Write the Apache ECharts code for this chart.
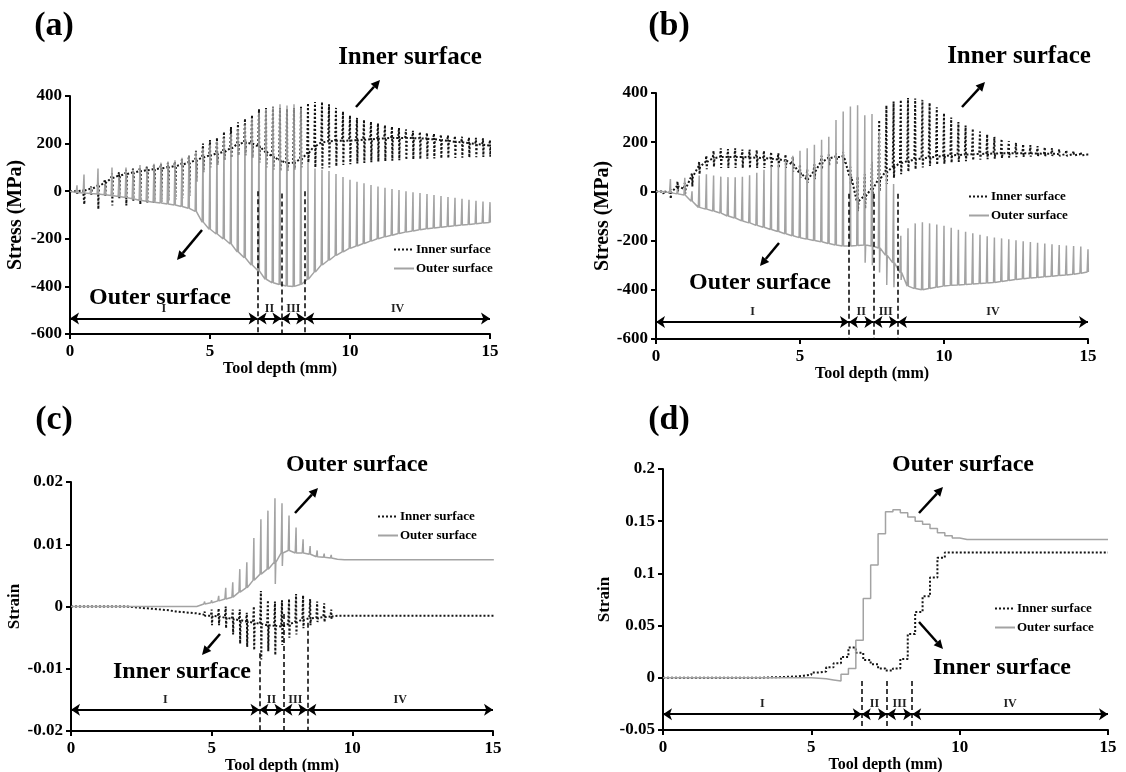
<!DOCTYPE html>
<html>
<head>
<meta charset="utf-8">
<script src="https://cdn.jsdelivr.net/npm/echarts@6/dist/echarts.min.js"></script>
<style>
  html, body { margin: 0; padding: 0; background: #fff; }
  #main-chart { width: 1126px; height: 772px; }
</style>
</head>
<body>
<div id="main-chart"></div>
<script>
// tool depth at the end of each forming cycle (mm)
const cycleDepth = [
  0.25, 0.5, 0.75, 1, 1.25, 1.5, 1.75, 2, 2.25, 2.5,
  2.75, 3, 3.25, 3.5, 3.75, 4, 4.25, 4.5, 4.75, 5,
  5.25, 5.5, 5.75, 6, 6.25, 6.5, 6.75, 7, 7.25, 7.5,
  7.75, 8, 8.25, 8.5, 8.75, 9, 9.25, 9.5, 9.75, 10,
  10.25, 10.5, 10.75, 11, 11.25, 11.5, 11.75, 12, 12.25, 12.5,
  12.75, 13, 13.25, 13.5, 13.75, 14, 14.25, 14.5, 14.75, 15
];

const regionBounds = [0, 6.7, 7.55, 8.4, 15];
const regionNames = ["I", "II", "III", "IV"];

// (a) stress, per cycle
const aInnerMid = [
  0, 3, 10, 20, 35, 55, 65, 72, 78, 84,
  88, 92, 96, 100, 105, 112, 120, 130, 142, 150,
  158, 165, 180, 198, 205, 200, 188, 165, 145, 130,
  118, 120, 135, 160, 190, 205, 210, 212, 212, 213,
  214, 216, 218, 220, 222, 224, 224, 224, 223, 222,
  220, 218, 215, 212, 208, 205, 202, 198, 195, 192
];
const aInnerHigh = [
  5, 10, 20, 35, 50, 75, 80, 90, 95, 100,
  105, 110, 115, 120, 125, 135, 150, 170, 200, 215,
  225, 250, 270, 290, 305, 320, 345, 350, 355, 350,
  345, 350, 355, 370, 375, 375, 365, 350, 335, 318,
  308, 300, 292, 285, 278, 272, 266, 260, 254, 249,
  245, 242, 238, 235, 232, 229, 226, 224, 222, 215
];
const aInnerLow = [
  -10, -55, -15, -75, -20, -60, -30, -60, -40, -55,
  -50, -50, -45, -40, -35, -30, -20, 40, 80, 100,
  110, 130, 140, 150, 150, 140, 120, 100, 90, 85,
  85, 90, 100, 120, 100, 95, 100, 105, 110, 113,
  116, 119, 122, 124, 126, 128, 130, 132, 134, 135,
  136, 137, 138, 139, 140, 141, 142, 143, 144, 145
];
const aOuterBase = [
  -5, -8, -10, -12, -15, -18, -22, -26, -32, -38,
  -42, -46, -50, -54, -58, -64, -72, -85, -130, -160,
  -180, -200, -222, -255, -280, -310, -335, -370, -385, -392,
  -398, -400, -392, -370, -340, -310, -290, -270, -255, -240,
  -230, -220, -210, -200, -192, -185, -178, -172, -167, -162,
  -158, -155, -151, -148, -145, -142, -140, -137, -134, -132
];
const aOuterPeak = [
  25, 70, 20, 95, 30, 100, 60, 100, 90, 110,
  100, 115, 120, 125, 130, 140, 150, 165, 180, 195,
  210, 225, 240, 260, 280, 300, 330, 345, 355, 365,
  360, 365, 350, 120, 95, 90, 85, 72, 60, 48,
  40, 33, 26, 20, 14, 9, 5, 0, -4, -8,
  -12, -16, -20, -24, -28, -32, -36, -40, -43, -46
];

// (b) stress, per cycle
const bInnerMid = [
  0, -5, 20, 10, 60, 100, 120, 135, 140, 140,
  140, 140, 138, 137, 135, 133, 130, 125, 110, 75,
  50, 80, 120, 135, 140, 140, 60, -40, -20, 10,
  50, 80, 100, 115, 123, 130, 134, 138, 141, 144,
  146, 148, 150, 151, 152, 153, 154, 155, 155, 155,
  155, 154, 154, 153, 153, 152, 152, 151, 151, 150
];
const bInnerHigh = [
  5, 10, 40, 35, 75, 120, 145, 165, 175, 172,
  175, 170, 170, 168, 165, 160, 155, 150, 140, 110,
  90, 110, 145, 150, 155, 160, 100, 60, 70, 120,
  290, 350, 365, 372, 380, 378, 372, 360, 342, 318,
  300, 282, 268, 255, 243, 232, 222, 213, 205, 198,
  192, 188, 184, 180, 176, 172, 168, 164, 160, 156
];
const bInnerLow = [
  -10, -30, 0, -10, 20, 70, 90, 100, 95, 95,
  95, 95, 95, 95, 95, 95, 95, 95, 80, 55,
  35, 50, 90, 105, 110, 115, 30, -80, -70, -50,
  0, 30, 55, 70, 80, 90, 97, 103, 108, 112,
  116, 120, 123, 126, 129, 131, 133, 135, 137, 139,
  140, 141, 142, 143, 144, 145, 145, 146, 146, 147
];
const bOuterBase = [
  0, -5, -10, -15, -40, -65, -72, -80, -88, -100,
  -108, -120, -128, -138, -146, -155, -163, -172, -180, -188,
  -194, -200, -205, -212, -218, -222, -222, -220, -218, -222,
  -230, -260, -290, -330, -385, -395, -400, -395, -390, -385,
  -382, -380, -378, -376, -374, -372, -370, -366, -362, -358,
  -355, -352, -350, -347, -345, -342, -340, -337, -333, -328
];
const bOuterPeak = [
  5, 50, 10, 55, 0, 65, 70, 65, 60, 58,
  57, 60, 66, 76, 88, 102, 115, 128, 145, 165,
  175, 190, 210, 222, 290, 325, 345, 350, 310, 315,
  240, 80, 30, -180, -150, -130, -125, -130, -135, -140,
  -148, -156, -164, -170, -176, -182, -187, -191, -195, -199,
  -203, -206, -209, -212, -215, -218, -220, -222, -224, -235
];
const bOuterLow = [
  0, -5, -10, -15, -40, -65, -72, -80, -88, -100,
  -108, -120, -128, -138, -146, -155, -163, -172, -180, -188,
  -194, -200, -205, -212, -218, -222, -222, -220, -290, -300,
  -330, -380, -390, -360, -385, -395, -400, -395, -390, -385,
  -382, -380, -378, -376, -374, -372, -370, -366, -362, -358,
  -355, -352, -350, -347, -345, -342, -340, -337, -333, -328
];

// (c) strain, per cycle
const cInnerMid = [
  0, 0, 0, 0, 0, 0, 0, 0, -0.0001, -0.0002,
  -0.0003, -0.0004, -0.0005, -0.0006, -0.0008, -0.0009, -0.001, -0.0011, -0.0013, -0.0015,
  -0.0016, -0.0018, -0.002, -0.0022, -0.0024, -0.0026, -0.0028, -0.003, -0.0031, -0.0032,
  -0.0028, -0.0025, -0.0021, -0.0019, -0.0018, -0.0017, -0.0016, -0.0015, -0.0015, -0.0015,
  -0.0015, -0.0015, -0.0015, -0.0015, -0.0015, -0.0015, -0.0015, -0.0015, -0.0015, -0.0015,
  -0.0015, -0.0015, -0.0015, -0.0015, -0.0015, -0.0015, -0.0015, -0.0015, -0.0015, -0.0015
];
const cInnerHigh = [
  0, 0, 0, 0, 0, 0, 0, 0, -0.0001, -0.0002,
  -0.0003, -0.0004, -0.0005, -0.0006, -0.0008, -0.0009, -0.001, -0.0011, -0.0008, -0.0005,
  -0.0003, 0, -0.0005, -0.0005, -0.001, 0, 0.0025, 0.001, 0.0008, 0.001,
  0.0012, 0.002, 0.0018, 0.0012, 0.0008, 0.0005, -0.0005, -0.0015, -0.0015, -0.0015,
  -0.0015, -0.0015, -0.0015, -0.0015, -0.0015, -0.0015, -0.0015, -0.0015, -0.0015, -0.0015,
  -0.0015, -0.0015, -0.0015, -0.0015, -0.0015, -0.0015, -0.0015, -0.0015, -0.0015, -0.0015
];
const cInnerLow = [
  0, 0, 0, 0, 0, 0, 0, 0, -0.0001, -0.0002,
  -0.0003, -0.0004, -0.0005, -0.0006, -0.0008, -0.0009, -0.001, -0.0011, -0.0015, -0.003,
  -0.003, -0.0035, -0.0045, -0.006, -0.0065, -0.007, -0.0085, -0.0072, -0.0078, -0.0062,
  -0.005, -0.0045, -0.0035, -0.003, -0.0025, -0.0025, -0.002, -0.0015, -0.0015, -0.0015,
  -0.0015, -0.0015, -0.0015, -0.0015, -0.0015, -0.0015, -0.0015, -0.0015, -0.0015, -0.0015,
  -0.0015, -0.0015, -0.0015, -0.0015, -0.0015, -0.0015, -0.0015, -0.0015, -0.0015, -0.0015
];
const cOuterBase = [
  0, 0, 0, 0, 0, 0, 0, 0, 0, 0,
  0, 0, 0, 0, 0, 0, 0, 0, 0.0004, 0.0006,
  0.0009, 0.0012, 0.0015, 0.0023, 0.003, 0.0042, 0.0052, 0.006, 0.0071, 0.0086,
  0.009, 0.0086, 0.0086, 0.0084, 0.008, 0.0079, 0.0078, 0.0076, 0.0075, 0.0075,
  0.0075, 0.0075, 0.0075, 0.0075, 0.0075, 0.0075, 0.0075, 0.0075, 0.0075, 0.0075,
  0.0075, 0.0075, 0.0075, 0.0075, 0.0075, 0.0075, 0.0075, 0.0075, 0.0075, 0.0075
];
const cOuterPeak = [
  0, 0, 0, 0, 0, 0, 0, 0, 0, 0,
  0, 0, 0, 0, 0, 0, 0, 0, 0.0008, 0.001,
  0.0017, 0.003, 0.0039, 0.006, 0.0071, 0.011, 0.014, 0.0154, 0.0174, 0.0166,
  0.0146, 0.0127, 0.0108, 0.0097, 0.009, 0.0085, 0.0083, 0.0078, 0.0075, 0.0075,
  0.0075, 0.0075, 0.0075, 0.0075, 0.0075, 0.0075, 0.0075, 0.0075, 0.0075, 0.0075,
  0.0075, 0.0075, 0.0075, 0.0075, 0.0075, 0.0075, 0.0075, 0.0075, 0.0075, 0.0075
];
const cOuterLow = [
  0, 0, 0, 0, 0, 0, 0, 0, 0, 0,
  0, 0, 0, 0, 0, 0, 0, 0, 0.0004, 0.0006,
  0.0009, 0.0012, 0.0015, 0.0023, 0.003, 0.0042, 0.0052, 0.006, 0.0036, 0.0065,
  0.009, 0.0086, 0.0086, 0.0084, 0.008, 0.0079, 0.0078, 0.0076, 0.0075, 0.0075,
  0.0075, 0.0075, 0.0075, 0.0075, 0.0075, 0.0075, 0.0075, 0.0075, 0.0075, 0.0075,
  0.0075, 0.0075, 0.0075, 0.0075, 0.0075, 0.0075, 0.0075, 0.0075, 0.0075, 0.0075
];

// (d) strain level after each cycle
const dInner = [
  0, 0, 0, 0, 0, 0, 0, 0, 0, 0,
  0, 0, 0.0003, 0.0005, 0.0007, 0.001, 0.0013, 0.002, 0.003, 0.005,
  0.006, 0.01, 0.014, 0.02, 0.029, 0.024, 0.017, 0.013, 0.009, 0.007,
  0.009, 0.018, 0.042, 0.063, 0.078, 0.096, 0.115, 0.12, 0.12, 0.12,
  0.12, 0.12, 0.12, 0.12, 0.12, 0.12, 0.12, 0.12, 0.12, 0.12,
  0.12, 0.12, 0.12, 0.12, 0.12, 0.12, 0.12, 0.12, 0.12, 0.12
];
const dOuter = [
  0, 0, 0, 0, 0, 0, 0, 0, 0, 0,
  0, 0, 0, 0, 0, 0, 0, 0, 0, -0.0005,
  -0.001, -0.002, -0.003, 0.0035, 0.009, 0.036, 0.076, 0.108, 0.138, 0.159,
  0.161, 0.158, 0.154, 0.15, 0.147, 0.143, 0.139, 0.136, 0.134, 0.1325,
  0.1325, 0.1325, 0.1325, 0.1325, 0.1325, 0.1325, 0.1325, 0.1325, 0.1325, 0.1325,
  0.1325, 0.1325, 0.1325, 0.1325, 0.1325, 0.1325, 0.1325, 0.1325, 0.1325, 0.1325
];

const FONT = '"Times New Roman", "Liberation Serif", serif';
const INNER = "#151515";
const OUTER = "#a3a3a3";

// one spike per cycle: level -> top -> bottom -> level
function spikeLine(mid, high, low) {
  const pts = [[0, 0]];
  cycleDepth.forEach((d, i) => {
    const bottom = low ? low[i] : mid[i];
    pts.push([d - 0.03, mid[i]], [d, high[i]], [d + 0.012, bottom], [d + 0.03, mid[i]]);
  });
  return pts;
}

function stepLine(levels) {
  return [[0, 0]].concat(cycleDepth.map((d, i) => [d, levels[i]]));
}

function regionMarks(arrowY, dashTops, yMin) {
  const data = [];
  for (let j = 0; j < 4; j++) {
    data.push([
      { coord: [regionBounds[j], arrowY], name: regionNames[j] },
      { coord: [regionBounds[j + 1], arrowY] }
    ]);
  }
  for (let j = 1; j < 4; j++) {
    data.push([
      {
        coord: [regionBounds[j], dashTops[j - 1]],
        symbol: "none",
        lineStyle: { type: [5, 3], width: 1.5, color: "#000" },
        label: { show: false }
      },
      { coord: [regionBounds[j], yMin], symbol: "none" }
    ]);
  }
  return {
    silent: true,
    animation: false,
    symbol: ["arrow", "arrow"],
    symbolSize: 9,
    lineStyle: { color: "#000", width: 2, type: "solid" },
    label: {
      show: true,
      position: "middle",
      formatter: "{b}",
      color: "#222",
      fontFamily: FONT,
      fontWeight: "bold",
      fontSize: 12,
      distance: 4
    },
    data: data
  };
}

const boldText = (size) => ({
  color: "#000",
  fontFamily: FONT,
  fontWeight: "bold",
  fontSize: size
});

function makeX(k, nameGap) {
  return {
    type: "value",
    gridIndex: k,
    min: 0,
    max: 15,
    interval: 5,
    name: "Tool depth (mm)",
    nameLocation: "middle",
    nameGap: nameGap,
    nameTextStyle: boldText(16),
    axisLine: { show: true, onZero: false, lineStyle: { color: "#000", width: 2 } },
    axisTick: { show: true, length: 5, lineStyle: { color: "#000", width: 2 } },
    axisLabel: Object.assign({ margin: 9 }, boldText(17)),
    splitLine: { show: false }
  };
}

function makeY(k, name, min, max, interval, nameGap, nameSize) {
  return {
    type: "value",
    gridIndex: k,
    min: min,
    max: max,
    interval: interval,
    name: name,
    nameLocation: "middle",
    nameGap: nameGap,
    nameTextStyle: boldText(nameSize),
    axisLine: { show: true, onZero: false, lineStyle: { color: "#000", width: 2 } },
    axisTick: { show: true, length: 5, lineStyle: { color: "#000", width: 2 } },
    axisLabel: Object.assign({ margin: 8 }, boldText(17)),
    splitLine: { show: false }
  };
}

function innerSeries(k, data, marks, step) {
  return {
    type: "line",
    name: "Inner surface",
    xAxisIndex: k,
    yAxisIndex: k,
    data: data,
    step: step || false,
    symbol: "none",
    showSymbol: false,
    animation: false,
    z: 2,
    itemStyle: { color: INNER },
    lineStyle: { color: INNER, width: 2, type: [2, 2] },
    markLine: marks
  };
}

function outerSeries(k, data, step) {
  return {
    type: "line",
    name: "Outer surface",
    xAxisIndex: k,
    yAxisIndex: k,
    data: data,
    step: step || false,
    symbol: "none",
    showSymbol: false,
    animation: false,
    z: 3,
    itemStyle: { color: OUTER },
    lineStyle: { color: OUTER, width: 1.5, type: "solid" }
  };
}

function legendAt(left, top) {
  return {
    left: left,
    top: top,
    orient: "vertical",
    itemWidth: 20,
    itemHeight: 12,
    itemGap: 6,
    padding: 0,
    selectedMode: false,
    itemStyle: { opacity: 0 },
    data: ["Inner surface", "Outer surface"],
    textStyle: Object.assign({ padding: [0, 0, 0, -3] }, boldText(13))
  };
}

function arrow(x1, y1, x2, y2) {
  const ang = Math.atan2(y2 - y1, x2 - x1);
  const c = Math.cos(ang), s = Math.sin(ang);
  const L = 9, W = 4.5;
  const bx = x2 - L * c, by = y2 - L * s;
  return [
    { type: "line", shape: { x1: x1, y1: y1, x2: bx, y2: by }, style: { stroke: "#000", lineWidth: 2.5 } },
    {
      type: "polygon",
      shape: { points: [[x2, y2], [bx - W * s, by + W * c], [bx + W * s, by - W * c]] },
      style: { fill: "#000" }
    }
  ];
}

function label(text, x, y, size) {
  return {
    type: "text",
    x: x,
    y: y,
    style: {
      text: text,
      fill: "#000",
      font: "bold " + size + "px " + FONT,
      align: "center",
      verticalAlign: "middle"
    }
  };
}

const chart = echarts.init(document.getElementById("main-chart"));

chart.setOption({
  backgroundColor: "#fff",
  animation: false,
  grid: [
    { left: 70, right: 636, top: 96, bottom: 438, containLabel: false, outerBoundsMode: "none" },
    { left: 656, right: 38, top: 93, bottom: 433, containLabel: false, outerBoundsMode: "none" },
    { left: 71, right: 633, top: 482, bottom: 41, containLabel: false, outerBoundsMode: "none" },
    { left: 663, right: 18, top: 469, bottom: 42, containLabel: false, outerBoundsMode: "none" }
  ],
  xAxis: [makeX(0, 21), makeX(1, 21), makeX(2, 23), makeX(3, 23)],
  yAxis: [
    makeY(0, "Stress (MPa)", -600, 400, 200, 44, 20),
    makeY(1, "Stress (MPa)", -600, 400, 200, 40, 20),
    makeY(2, "Strain", -0.02, 0.02, 0.01, 48, 17),
    makeY(3, "Strain", -0.05, 0.2, 0.05, 50, 17)
  ],
  legend: [legendAt(393, 243), legendAt(968, 190), legendAt(377, 510), legendAt(994, 602)],
  series: [
    innerSeries(0, spikeLine(aInnerMid, aInnerHigh, aInnerLow), regionMarks(-535, [0, -10, 0], -600)),
    outerSeries(0, spikeLine(aOuterBase, aOuterPeak, null)),
    innerSeries(1, spikeLine(bInnerMid, bInnerHigh, bInnerLow), regionMarks(-531, [-10, -10, -10], -600)),
    outerSeries(1, spikeLine(bOuterBase, bOuterPeak, bOuterLow)),
    innerSeries(2, spikeLine(cInnerMid, cInnerHigh, cInnerLow), regionMarks(-0.0166, [-0.0075, -0.0012, -0.0026], -0.02)),
    outerSeries(2, spikeLine(cOuterBase, cOuterPeak, cOuterLow)),
    innerSeries(3, stepLine(dInner), regionMarks(-0.0348, [-0.003, -0.003, -0.003], -0.05), "end"),
    outerSeries(3, stepLine(dOuter), "end")
  ],
  graphic: [
    label("(a)", 54, 26, 34),
    label("(b)", 669, 26, 34),
    label("(c)", 54, 420, 34),
    label("(d)", 669, 420, 34),
    label("Inner surface", 410, 58, 25),
    label("Outer surface", 160, 298, 24),
    label("Inner surface", 1019, 57, 25),
    label("Outer surface", 760, 283, 24),
    label("Outer surface", 357, 465, 24),
    label("Inner surface", 182, 672, 24),
    label("Outer surface", 963, 465, 24),
    label("Inner surface", 1002, 668, 24)
  ]
    .concat(arrow(356, 107, 380, 80))
    .concat(arrow(202, 230, 177, 260))
    .concat(arrow(962, 107, 985, 82))
    .concat(arrow(779, 243, 760, 266))
    .concat(arrow(295, 513, 318, 488))
    .concat(arrow(220, 634, 202, 655))
    .concat(arrow(919, 513, 943, 487))
    .concat(arrow(919, 622, 943, 649))
});

window.addEventListener("resize", () => {
  chart.resize();
});
</script>
</body>
</html>
